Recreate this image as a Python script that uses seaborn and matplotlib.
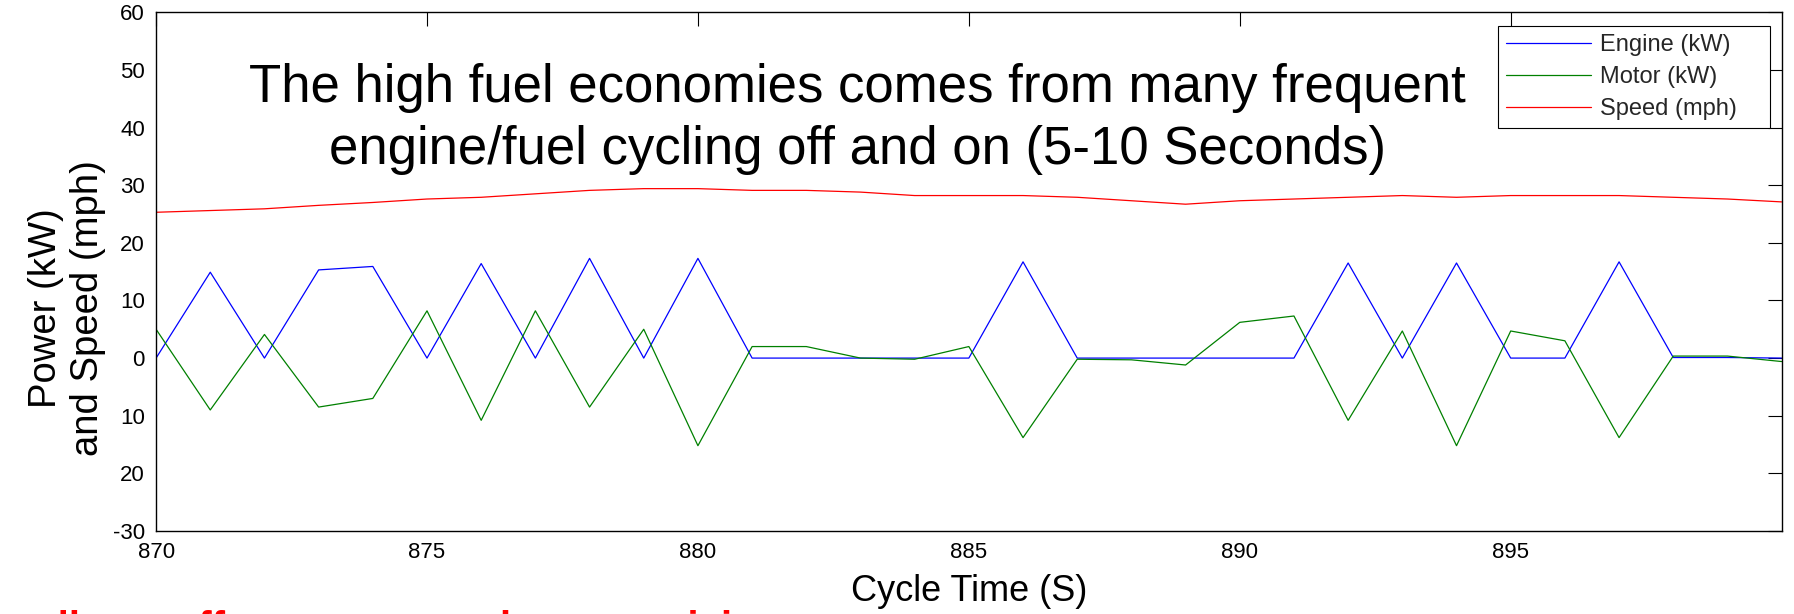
import pandas as pd
import seaborn as sns
import matplotlib.pyplot as plt

# Cycle time samples (s)
cycle_time = list(range(870, 901))

# Values, one per second from 870 to 900
engine_kw = [0, 14.9, 0, 15.3, 15.9, 0, 16.4, 0, 17.3, 0,
             17.3, 0, 0, 0, 0, 0, 16.7, 0, 0, 0,
             0, 0, 16.5, 0, 16.5, 0, 0, 16.7, 0.1, 0.1, 0]
motor_kw = [5.0, -9.0, 4.1, -8.5, -7.0, 8.2, -10.8, 8.2, -8.5, 5.0,
            -15.2, 2.0, 2.0, 0.0, -0.2, 2.0, -13.8, -0.2, -0.3, -1.2,
            6.2, 7.3, -10.8, 4.7, -15.2, 4.7, 3.0, -13.8, 0.35, 0.35, -0.6]
speed_mph = [25.3, 25.6, 25.9, 26.5, 27.0, 27.6, 27.9, 28.5, 29.1, 29.4,
             29.4, 29.1, 29.1, 28.8, 28.2, 28.2, 28.2, 27.9, 27.3, 26.7,
             27.3, 27.6, 27.9, 28.2, 27.9, 28.2, 28.2, 28.2, 27.9, 27.6, 27.1]

series_names = ["Engine (kW)", "Motor (kW)", "Speed (mph)"]
series_colors = ["#0000ff", "#008000", "#ff0000"]

x_ticks = [870, 875, 880, 885, 890, 895]
y_ticks = [-30, -20, -10, 0, 10, 20, 30, 40, 50, 60]
y_tick_labels = ["-30", "20", "10", "0", "10", "20", "30", "40", "50", "60"]

title_text = ("The high fuel economies comes from many frequent\n"
              "engine/fuel cycling off and on (5-10 Seconds)")
footer_text = "usually go off even as a car keeps cruising"

# long-form table for seaborn
df = pd.DataFrame({
    "time": cycle_time * 3,
    "value": engine_kw + motor_kw + speed_mph,
    "series": [n for n in series_names for _ in cycle_time],
})

sns.set_theme(style="white")
plt.rcParams["font.family"] = ["Liberation Sans", "DejaVu Sans"]

fig = plt.figure(figsize=(17.94, 6.14), dpi=100)
ax = fig.add_axes([0.087, 0.1352, 0.9061, 0.8448])

sns.lineplot(data=df, x="time", y="value", hue="series", hue_order=series_names,
             palette=dict(zip(series_names, series_colors)), linewidth=0.9, ax=ax)

ax.set_xlim(870, 900)
ax.set_ylim(-30, 60)
ax.set_xticks(x_ticks)
ax.set_xticklabels([str(t) for t in x_ticks])
ax.set_yticks(y_ticks)
ax.set_yticklabels(y_tick_labels)

for s in ax.spines.values():
    s.set_color("black")
    s.set_linewidth(1.0)
ax.tick_params(direction="in", length=10, width=0.8, color="black",
               top=True, right=True, labelsize=16, pad=8, labelcolor="black")

ax.set_xlabel("Cycle Time (S)", fontsize=26, labelpad=8, color="black")
ax.set_ylabel("Power (kW)\nand Speed (mph)", fontsize=27.5, linespacing=1.2, color="black")
ax.yaxis.set_label_coords(-0.0308, 0.43)

sns.move_legend(ax, "upper left", bbox_to_anchor=(0.8253, 0.7794, 0.1675, 0.1942),
                mode="expand", title=None, frameon=True, fancybox=False,
                fontsize=17, handlelength=3.6, handletextpad=0.4,
                borderpad=0.35, labelspacing=0.42, borderaxespad=0,
                framealpha=1, edgecolor="black")
ax.get_legend().get_frame().set_linewidth(0.8)

# va="baseline" puts the last line's baseline at y
fig.text(0.478, 0.733, title_text, ha="center", va="baseline",
         multialignment="center", fontsize=38, linespacing=1.3, color="black")

# red caption of the next line, cut off by the bottom edge
fig.text(-0.02, -0.043, footer_text, ha="left", va="baseline",
         fontsize=29, fontweight="bold", color="red")

fig.savefig("out.png", dpi=100)
